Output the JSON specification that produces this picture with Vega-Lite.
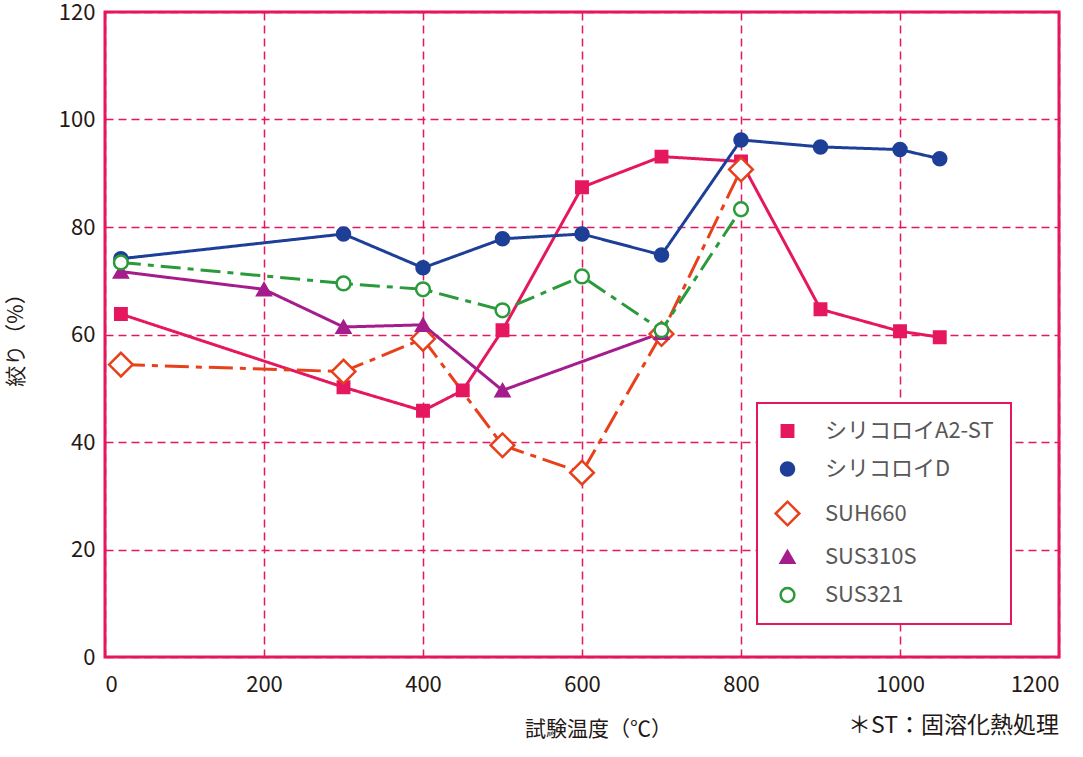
{
  "$schema": "https://vega.github.io/schema/vega-lite/v6.json",
  "width": 954,
  "height": 645,
  "autosize": {"type": "none"},
  "padding": {"left": 105, "top": 12, "right": 24, "bottom": 100},
  "background": "white",
  "title": {
    "text": "＊ST：固溶化熱処理",
    "orient": "bottom",
    "anchor": "end",
    "offset": -24,
    "fontSize": 23,
    "fontWeight": "normal",
    "color": "#231815",
    "font": "Noto Sans CJK JP"
  },
  "data": {
    "values": [
      {"series": "シリコロイA2-ST", "temp": 20, "value": 63.8},
      {"series": "シリコロイA2-ST", "temp": 300, "value": 50.2},
      {"series": "シリコロイA2-ST", "temp": 400, "value": 45.8},
      {"series": "シリコロイA2-ST", "temp": 450, "value": 49.6},
      {"series": "シリコロイA2-ST", "temp": 500, "value": 60.8},
      {"series": "シリコロイA2-ST", "temp": 600, "value": 87.4},
      {"series": "シリコロイA2-ST", "temp": 700, "value": 93.1},
      {"series": "シリコロイA2-ST", "temp": 800, "value": 92.2},
      {"series": "シリコロイA2-ST", "temp": 900, "value": 64.7},
      {"series": "シリコロイA2-ST", "temp": 1000, "value": 60.6},
      {"series": "シリコロイA2-ST", "temp": 1050, "value": 59.5},
      {"series": "シリコロイD", "temp": 20, "value": 74.1},
      {"series": "シリコロイD", "temp": 300, "value": 78.7},
      {"series": "シリコロイD", "temp": 400, "value": 72.4},
      {"series": "シリコロイD", "temp": 500, "value": 77.8},
      {"series": "シリコロイD", "temp": 600, "value": 78.7},
      {"series": "シリコロイD", "temp": 700, "value": 74.8},
      {"series": "シリコロイD", "temp": 800, "value": 96.2},
      {"series": "シリコロイD", "temp": 900, "value": 94.9},
      {"series": "シリコロイD", "temp": 1000, "value": 94.4},
      {"series": "シリコロイD", "temp": 1050, "value": 92.7},
      {"series": "SUH660", "temp": 20, "value": 54.4},
      {"series": "SUH660", "temp": 300, "value": 53.1},
      {"series": "SUH660", "temp": 400, "value": 59.2},
      {"series": "SUH660", "temp": 500, "value": 39.4},
      {"series": "SUH660", "temp": 600, "value": 34.3},
      {"series": "SUH660", "temp": 700, "value": 60.1},
      {"series": "SUH660", "temp": 800, "value": 90.7},
      {"series": "SUS310S", "temp": 20, "value": 71.7},
      {"series": "SUS310S", "temp": 200, "value": 68.4},
      {"series": "SUS310S", "temp": 300, "value": 61.4},
      {"series": "SUS310S", "temp": 400, "value": 61.8},
      {"series": "SUS310S", "temp": 500, "value": 49.6},
      {"series": "SUS310S", "temp": 700, "value": 60.3},
      {"series": "SUS321", "temp": 20, "value": 73.4},
      {"series": "SUS321", "temp": 300, "value": 69.5},
      {"series": "SUS321", "temp": 400, "value": 68.4},
      {"series": "SUS321", "temp": 500, "value": 64.5},
      {"series": "SUS321", "temp": 600, "value": 70.8},
      {"series": "SUS321", "temp": 700, "value": 60.8},
      {"series": "SUS321", "temp": 800, "value": 83.3}
    ]
  },
  "encoding": {
    "x": {
      "field": "temp",
      "type": "quantitative",
      "scale": {"domain": [0, 1200], "nice": false},
      "axis": {
        "values": [0, 200, 400, 600, 800, 1000, 1200],
        "format": "d",
        "title": "試験温度（℃）",
        "titlePadding": 23,
        "titleX": 493
      }
    },
    "y": {
      "field": "value",
      "type": "quantitative",
      "scale": {"domain": [0, 120], "nice": false},
      "axis": {
        "values": [0, 20, 40, 60, 80, 100, 120],
        "title": "絞り（%）",
        "titlePadding": 32
      }
    }
  },
  "layer": [
    {
      "mark": {"type": "line", "strokeWidth": 3},
      "encoding": {
        "color": {
          "field": "series",
          "type": "nominal",
          "scale": {
            "range": ["#E8401B", "#A51C8C", "#2A9A3A", "#E5175F", "#1E3F98"]
          },
          "legend": null
        },
        "strokeDash": {
          "field": "series",
          "type": "nominal",
          "scale": {
            "range": [[24, 7, 6, 7], [1, 0], [20, 7, 6, 7], [1, 0], [1, 0]]
          },
          "legend": null
        }
      }
    },
    {
      "mark": {"type": "point", "filled": true, "opacity": 1, "strokeWidth": 2.5},
      "encoding": {
        "shape": {
          "field": "series",
          "type": "nominal",
          "title": null,
          "scale": {
            "domain": ["シリコロイA2-ST", "シリコロイD", "SUH660", "SUS310S", "SUS321"],
            "range": ["square", "circle", "diamond", "triangle-up", "circle"]
          }
        },
        "fill": {
          "field": "series",
          "type": "nominal",
          "title": null,
          "scale": {
            "domain": ["シリコロイA2-ST", "シリコロイD", "SUH660", "SUS310S", "SUS321"],
            "range": ["#E5175F", "#1E3F98", "white", "#A51C8C", "white"]
          }
        },
        "stroke": {
          "field": "series",
          "type": "nominal",
          "title": null,
          "scale": {
            "domain": ["シリコロイA2-ST", "シリコロイD", "SUH660", "SUS310S", "SUS321"],
            "range": ["#E5175F", "#1E3F98", "#E8401B", "#A51C8C", "#2A9A3A"]
          }
        },
        "size": {
          "field": "series",
          "type": "nominal",
          "title": null,
          "scale": {
            "type": "ordinal",
            "domain": ["シリコロイA2-ST", "シリコロイD", "SUH660", "SUS310S", "SUS321"],
            "range": [130, 170, 560, 180, 190]
          }
        }
      }
    }
  ],
  "config": {
    "font": "Noto Sans CJK JP",
    "view": {"stroke": "#E5175F", "strokeWidth": 3},
    "axis": {
      "domain": false,
      "ticks": false,
      "grid": true,
      "gridColor": "#E5175F",
      "gridDash": [8, 5],
      "gridWidth": 1.5,
      "gridOpacity": 1,
      "labelFont": "Noto Sans CJK JP",
      "labelFontSize": 22,
      "labelColor": "#231815",
      "titleFont": "Noto Sans CJK JP",
      "titleFontSize": 21,
      "titleFontWeight": "normal",
      "titleColor": "#231815"
    },
    "axisX": {"labelPadding": 17},
    "axisY": {"labelPadding": 10},
    "legend": {
      "orient": "none",
      "legendX": 652,
      "legendY": 391,
      "fillColor": "white",
      "strokeColor": "#E5175F",
      "strokeWidth": 2,
      "padding": 17,
      "rowPadding": 15,
      "labelFont": "Noto Sans CJK JP",
      "labelFontSize": 22,
      "labelColor": "#595757",
      "labelLimit": 400,
      "labelOffset": 24,
      "symbolStrokeWidth": 2.5
    }
  }
}
